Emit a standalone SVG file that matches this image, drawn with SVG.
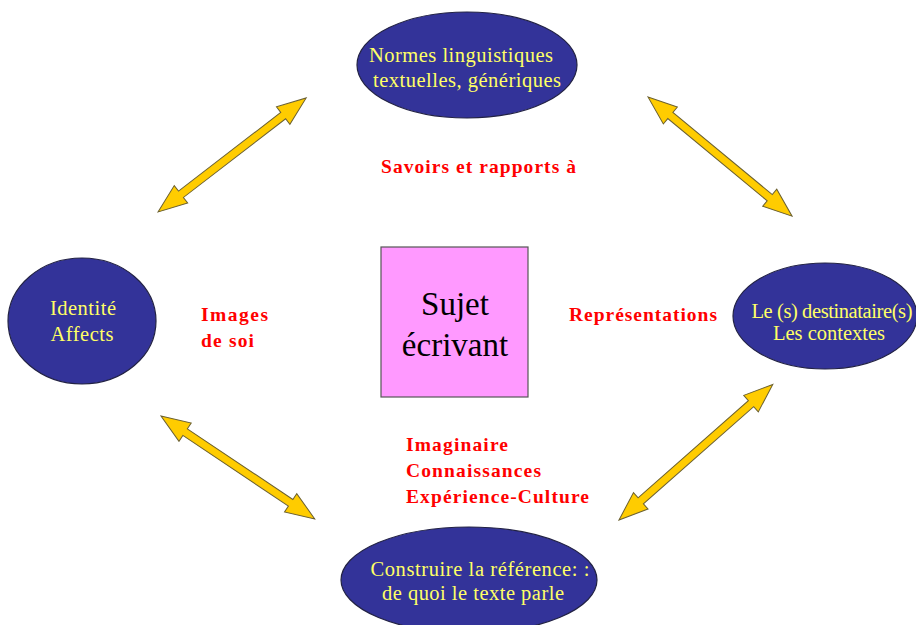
<svg xmlns="http://www.w3.org/2000/svg" width="916" height="625" viewBox="0 0 916 625">
<style>
.node ellipse{fill:#333399;stroke:#222244;stroke-width:1.2}
.nt{font-family:"Liberation Serif","Times New Roman",serif;font-size:20.5px;fill:#FFFF66;text-anchor:middle}
.lbl{font-family:"Liberation Serif","Times New Roman",serif;font-size:19.5px;font-weight:bold;fill:#FF0000}
.arr{fill:#FFCC00;stroke:#6b6030;stroke-width:1}
.ct{font-family:"Liberation Serif","Times New Roman",serif;font-size:33px;fill:#000;text-anchor:middle}
</style>
<rect width="916" height="625" fill="#fff"/>
<g id="connectors">
<path class="arr" transform="translate(158,212) rotate(-37.6)" d="M0,0 L29,-11 L29,-4 L158,-4 L158,-11 L187,0 L158,11 L158,4 L29,4 L29,11 Z"/>
<path class="arr" transform="translate(648,97) rotate(39.6)" d="M0,0 L29,-11 L29,-4 L158,-4 L158,-11 L187,0 L158,11 L158,4 L29,4 L29,11 Z"/>
<path class="arr" transform="translate(161,416) rotate(33.8)" d="M0,0 L29,-11 L29,-4 L156,-4 L156,-11 L185,0 L156,11 L156,4 L29,4 L29,11 Z"/>
<path class="arr" transform="translate(619,520) rotate(-41.4)" d="M0,0 L29,-11 L29,-4 L176,-4 L176,-11 L205,0 L176,11 L176,4 L29,4 L29,11 Z"/>
</g>
<g id="normes" class="node">
<ellipse cx="467" cy="65" rx="110" ry="53"/>
<text class="nt" x="461" y="62" textLength="184" lengthAdjust="spacing">Normes linguistiques</text>
<text class="nt" x="467" y="87" textLength="188" lengthAdjust="spacing">textuelles, génériques</text>
</g>
<g id="identite" class="node">
<ellipse cx="82" cy="321" rx="74" ry="63"/>
<text class="nt" x="83" y="315" textLength="66" lengthAdjust="spacing">Identité</text>
<text class="nt" x="82" y="341" textLength="63" lengthAdjust="spacing">Affects</text>
</g>
<g id="destinataire" class="node">
<ellipse cx="825" cy="316" rx="92" ry="53"/>
<text class="nt" x="832" y="318" textLength="161" lengthAdjust="spacing">Le (s) destinataire(s)</text>
<text class="nt" x="829" y="340">Les contextes</text>
</g>
<g id="reference" class="node">
<ellipse cx="469" cy="580" rx="128" ry="53"/>
<text class="nt" x="480" y="576" textLength="219" lengthAdjust="spacing">Construire la référence: :</text>
<text class="nt" x="473" y="600" textLength="182" lengthAdjust="spacing">de quoi le texte parle</text>
</g>
<g id="sujet">
<rect x="381" y="247" width="147" height="150" fill="#FF99FF" stroke="#555" stroke-width="1.2"/>
<text class="ct" x="455" y="315">Sujet</text>
<text class="ct" x="455" y="356">écrivant</text>
</g>
<g id="labels">
<text class="lbl" x="381" y="173" textLength="195" lengthAdjust="spacing">Savoirs et rapports à</text>
<text class="lbl" x="201" y="321" textLength="67" lengthAdjust="spacing">Images</text>
<text class="lbl" x="201" y="347" textLength="53" lengthAdjust="spacing">de soi</text>
<text class="lbl" x="569" y="321" textLength="148" lengthAdjust="spacing">Représentations</text>
<text class="lbl" x="406" y="451" textLength="102" lengthAdjust="spacing">Imaginaire</text>
<text class="lbl" x="406" y="477" textLength="135" lengthAdjust="spacing">Connaissances</text>
<text class="lbl" x="406" y="503" textLength="183" lengthAdjust="spacing">Expérience-Culture</text>
</g>
</svg>
